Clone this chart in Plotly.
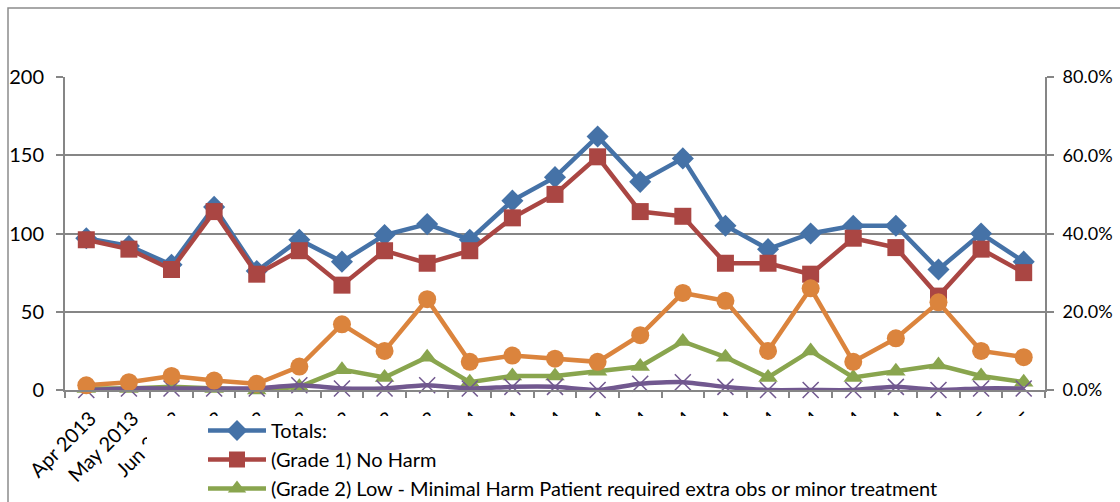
import plotly.graph_objects as go

# Monthly incident counts by harm grade, with harm share on the secondary axis
months = [
    "Apr 2013", "May 2013", "Jun 2013", "Jul 2013", "Aug 2013", "Sep 2013",
    "Oct 2013", "Nov 2013", "Dec 2013", "Jan 2014", "Feb 2014", "Mar 2014",
    "Apr 2014", "May 2014", "Jun 2014", "Jul 2014", "Aug 2014", "Sep 2014",
    "Oct 2014", "Nov 2014", "Dec 2014", "Jan 2015", "Feb 2015",
]
totals = [97, 92, 80, 117, 76, 96, 82, 99, 106, 96, 121, 136,
          162, 133, 148, 105, 90, 100, 105, 105, 77, 100, 82]
grade1_no_harm = [96, 90, 77, 114, 74, 89, 67, 89, 81, 89, 110, 125,
                  149, 114, 111, 81, 81, 74, 97, 91, 60, 90, 75]
grade2_low_harm = [1, 1, 2, 1, 0, 2, 13, 8, 21, 5, 9, 9,
                   12, 15, 31, 21, 8, 25, 8, 12, 16, 9, 5]
grade3_moderate = [0, 1, 1, 1, 1, 3, 1, 1, 3, 1, 2, 2,
                   0, 4, 5, 2, 0, 0, 0, 2, 0, 1, 1]
harm_share = [0.012, 0.020, 0.036, 0.024, 0.016, 0.060, 0.168, 0.100, 0.232,
              0.072, 0.088, 0.080, 0.072, 0.140, 0.248, 0.228, 0.100, 0.260,
              0.072, 0.132, 0.224, 0.100, 0.084]

left_ticks = [0, 50, 100, 150, 200]
right_ticks = [0, 0.2, 0.4, 0.6, 0.8]

BLUE = "#4572A7"
RED = "#AA4643"
GREEN = "#89A54E"
PURPLE = "#71588F"
ORANGE = "#DB843D"
GRID = "#868686"
FONT = "Lato"
FS = 20

W, H = 1120, 502
ML, MR, MT, MB = 65, 75, 77, 112
PW, PH = W - ML - MR, H - MT - MB


def px_x(x):
    return (x - ML) / PW


def px_y(y):
    return (H - MB - y) / PH


fig = go.Figure()


def add_series(name, values, color, symbol, size, axis="y", legend=True,
               shape="linear", mline=0):
    fig.add_trace(go.Scatter(
        x=months, y=values, name=name, yaxis=axis, mode="lines+markers",
        line=dict(color=color, width=4.5, shape=shape, smoothing=0.6),
        marker=dict(symbol=symbol, size=size, color=color,
                    line=dict(color=color, width=mline)),
        cliponaxis=False, showlegend=legend,
    ))


add_series("Totals:", totals, BLUE, "diamond", 17)
add_series("(Grade 1) No Harm", grade1_no_harm, RED, "square", 17)
add_series("(Grade 2) Low - Minimal Harm Patient required extra obs or minor treatment",
           grade2_low_harm, GREEN, "triangle-up", 17)
add_series("(Grade 3) Moderate Harm", grade3_moderate, PURPLE, "x-thin", 16,
           legend=False, shape="spline", mline=1.5)
add_series("% Harm", harm_share, ORANGE, "circle", 18, axis="y2", legend=False)

fig.update_layout(
    width=W, height=H,
    margin=dict(l=ML, r=MR, t=MT, b=MB, autoexpand=False),
    paper_bgcolor="white", plot_bgcolor="white",
    font=dict(family=FONT, size=FS, color="#000000"),
    xaxis=dict(
        type="category", range=[-0.5, len(months) - 0.5], automargin=False,
        tickangle=-45, tickson="boundaries", ticks="outside", ticklen=6,
        tickcolor=GRID, tickwidth=1.5, showline=True, linecolor=GRID,
        linewidth=2, showgrid=False, zeroline=False,
        tickfont=dict(family=FONT, size=FS),
        ticklabelstandoff=7, ticklabelshift=4,
    ),
    yaxis=dict(
        range=[0, 200], tickvals=left_ticks, ticks="outside", ticklen=7,
        tickcolor=GRID, tickwidth=1.5, showline=True, linecolor=GRID,
        linewidth=2, showgrid=True, gridcolor=GRID, gridwidth=1.5,
        zeroline=False, tickfont=dict(family=FONT, size=FS),
        ticklabelstandoff=8, automargin=False,
    ),
    yaxis2=dict(
        overlaying="y", side="right", range=[0, 0.8], tickvals=right_ticks,
        tickformat=".1%", ticks="outside", ticklen=7, tickcolor=GRID,
        tickwidth=1.5, showline=True, linecolor=GRID, linewidth=2,
        showgrid=False, zeroline=False, tickfont=dict(family=FONT, size=18),
        ticklabelstandoff=5, automargin=False,
    ),
    legend=dict(
        x=px_x(203), y=px_y(411), xanchor="left", yanchor="top",
        bgcolor="rgba(255,255,255,0)", borderwidth=0,
        font=dict(family=FONT, size=FS), itemwidth=58, tracegroupgap=0,
    ),
    shapes=[
        # white panel behind the legend
        dict(type="rect", xref="paper", yref="paper", layer="above",
             x0=px_x(147), x1=px_x(W + 10), y0=px_y(H + 10), y1=px_y(416),
             fillcolor="white", line=dict(width=0)),
        # chart-area frame
        dict(type="rect", xref="paper", yref="paper", layer="above",
             x0=px_x(8), x1=px_x(W + 10), y0=px_y(H + 10), y1=px_y(8),
             fillcolor="rgba(0,0,0,0)", line=dict(color="#8C8C8C", width=1.5)),
    ],
)

fig.write_html("out.html")
